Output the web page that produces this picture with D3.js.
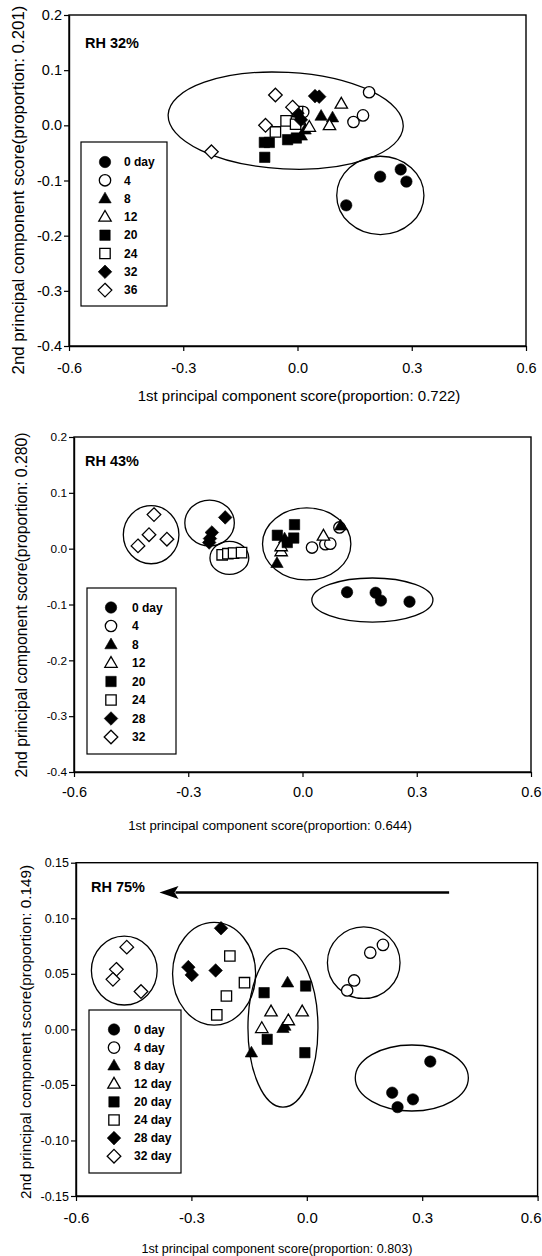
<!DOCTYPE html>
<html><head><meta charset="utf-8">
<script src="https://cdn.jsdelivr.net/npm/d3@7"></script>
<style>
body{margin:0;background:#fff}
svg{display:block}
text{font-family:"Liberation Sans",Arial,Helvetica,sans-serif;fill:#000}
</style>
</head><body>
<svg id="chart" width="542" height="1256"></svg>
<script>
// ---------------- DATA ----------------
const legendLabels32 = ["0 day","4","8","12","20","24","32","36"];
const legendLabels43 = ["0 day","4","8","12","20","24","28","32"];
const legendLabels75 = ["0 day","4 day","8 day","12 day","20 day","24 day","28 day","32 day"];
const markerKinds = ["circle-filled","circle-open","triangle-filled","triangle-open",
                     "square-filled","square-open","diamond-filled","diamond-open"];

const xTicks = [-0.6,-0.3,0.0,0.3,0.6];
const yTicks32 = [-0.4,-0.3,-0.2,-0.1,0.0,0.1,0.2];
const yTicks43 = [-0.4,-0.3,-0.2,-0.1,0.0,0.1,0.2];
const yTicks75 = [-0.15,-0.10,-0.05,0.00,0.05,0.10,0.15];

const rhLabels = ["RH 32%","RH 43%","RH 75%"];
const xTitles = ["1st principal component score(proportion: 0.722)",
                 "1st principal component score(proportion: 0.644)",
                 "1st principal component score(proportion: 0.803)"];
const yTitles = ["2nd principal component score(proportion: 0.201)",
                 "2nd principal component score(proportion: 0.280)",
                 "2nd principal component score(proportion: 0.149)"];

// PC scores [PC1, PC2] per storage day, one array per legend entry
const scores32 = [
  [[0.128,-0.145],[0.217,-0.093],[0.271,-0.080],[0.286,-0.102]],
  [[0.188,0.060],[0.147,0.006],[0.172,0.018],[0.015,0.024]],
  [[0.062,0.017],[0.092,0.014],[0.020,-0.008],[0.010,-0.019]],
  [[0.115,0.039],[0.084,0.000],[0.031,-0.003],[0.005,0.010]],
  [[-0.087,-0.031],[-0.074,-0.031],[-0.086,-0.058],[-0.026,-0.026],[-0.003,-0.023]],
  [[-0.058,-0.012],[-0.030,0.008],[-0.005,0.002],[0.000,0.025]],
  [[0.046,0.053],[0.057,0.052],[0.000,0.022],[0.009,0.010]],
  [[-0.226,-0.048],[-0.058,0.055],[-0.084,0.000],[-0.013,0.033]]
];
const scores43 = [
  [[0.117,-0.078],[0.192,-0.079],[0.206,-0.093],[0.281,-0.095]],
  [[0.025,0.002],[0.060,0.008],[0.073,0.009],[0.097,0.038]],
  [[-0.067,-0.026],[0.100,0.041],[-0.047,0.018]],
  [[-0.056,-0.005],[-0.056,0.004],[0.055,0.023]],
  [[-0.066,0.024],[-0.021,0.043],[-0.023,0.019],[-0.040,0.011]],
  [[-0.211,-0.011],[-0.196,-0.009],[-0.181,-0.008],[-0.160,-0.007]],
  [[-0.203,0.056],[-0.238,0.029],[-0.243,0.018],[-0.245,0.011]],
  [[-0.390,0.061],[-0.403,0.025],[-0.356,0.017],[-0.432,0.005]]
];
const scores75 = [
  [[0.321,-0.029],[0.222,-0.057],[0.236,-0.070],[0.276,-0.063]],
  [[0.198,0.076],[0.165,0.069],[0.123,0.044],[0.105,0.035]],
  [[-0.050,0.042],[-0.057,0.003],[-0.144,-0.021],[-0.062,0.001]],
  [[-0.093,0.016],[-0.012,0.016],[-0.117,0.001],[-0.048,0.008]],
  [[-0.111,0.033],[-0.003,0.039],[-0.103,-0.009],[-0.005,-0.021]],
  [[-0.200,0.066],[-0.209,0.030],[-0.162,0.042],[-0.234,0.013]],
  [[-0.223,0.091],[-0.308,0.056],[-0.299,0.049],[-0.237,0.053]],
  [[-0.468,0.074],[-0.495,0.054],[-0.504,0.045],[-0.431,0.034]]
];

// grouping ellipses: [centre PC1, centre PC2, radius PC1, radius PC2, tilt deg]
const groups32 = [[-0.031,0.0085,0.309,0.0875,3],[0.2175,-0.127,0.1145,0.071,0]];
const groups43 = [[-0.3975,0.025,0.073,0.052,0],[-0.244,0.046,0.065,0.041,0],
                  [-0.192,-0.0165,0.051,0.0295,0],[0.011,0.0085,0.116,0.0645,0],
                  [0.1835,-0.092,0.159,0.0395,0]];
const groups75 = [[-0.4745,0.0529,0.0855,0.031,0],[-0.241,0.050,0.108,0.0462,0],
                  [-0.062,0.0014,0.091,0.0714,0],[0.148,0.060,0.0944,0.0322,0],
                  [0.273,-0.0438,0.147,0.0297,0]];
// trend arrow in RH 75% panel: [from PC1, to PC1, at PC2]
const arrow75 = [0.370,-0.383,0.1232];

// ---------------- LAYOUT ----------------
const panels = [
  {scores:scores32, groups:groups32, labels:legendLabels32, yTicks:yTicks32, yFmt:".1f",
   left:69, right:526, top:15, bottom:346, yMin:-0.4, yMax:0.2,
   legend:{x:81,y:142,w:86,h:164,mx:105,tx:124,y0:162,dy:18.3},
   rh:{x:85,y:48}, tick:{y:14.5,x:14.5,pad:12}, xt:{x:299,y:401,size:15}, yt:{x:18,y:190,size:16.9}},
  {scores:scores43, groups:groups43, labels:legendLabels43, yTicks:yTicks43, yFmt:".1f",
   left:74, right:531, top:437, bottom:772, yMin:-0.4, yMax:0.2,
   legend:{x:87,y:588,w:89,h:166,mx:111,tx:132,y0:607.5,dy:18.5},
   rh:{x:85,y:466}, tick:{y:11.8,x:14.5,pad:10}, xt:{x:270,y:830,size:13.2}, yt:{x:21,y:605,size:15.8}},
  {scores:scores75, groups:groups75, labels:legendLabels75, yTicks:yTicks75, yFmt:".2f",
   left:76, right:537.6, top:862.7, bottom:1196, yMin:-0.15, yMax:0.15,
   legend:{x:89,y:1010,w:92,h:163,mx:114,tx:134,y0:1029.5,dy:18.1},
   rh:{x:91,y:892}, tick:{y:12.5,x:15,pad:11}, xt:{x:277,y:1253,size:12.6}, yt:{x:26,y:1032,size:15.3}, arrow:arrow75}
];

const loc = d3.formatLocale({decimal:".",thousands:",",grouping:[3],currency:["",""],minus:"-"});

function markerPath(kind){
  const shape = kind.split("-")[0];
  if(shape==="circle") return d3.symbol(d3.symbolCircle, Math.PI*5.7*5.7)();
  if(shape==="square"){const h=5.2;return `M${-h},${-h}H${h}V${h}H${-h}Z`;}
  if(shape==="triangle"){const s=12.4,h=s*0.866;return `M0,${-h*0.6}L${s/2},${h*0.4}L${-s/2},${h*0.4}Z`;}
  const d=6.8; return `M0,${-d}L${d},0L0,${d}L${-d},0Z`;
}
function styleMarker(sel, kind){
  const filled = kind.endsWith("filled");
  sel.attr("d", markerPath(kind))
     .attr("fill", filled ? "#000" : "#fff")
     .attr("stroke", "#000")
     .attr("stroke-width", filled ? 0.6 : 1.3)
     .attr("stroke-linejoin","miter");
}

const svg = d3.select("#chart");
const W = 542;
svg.append("rect").attr("width",W).attr("height",1256).attr("fill","#fff");

panels.forEach((p,pi)=>{
  const g = svg.append("g");
  const x = d3.scaleLinear().domain([-0.6,0.6]).range([p.left,p.right]);
  const y = d3.scaleLinear().domain([p.yMin,p.yMax]).range([p.bottom,p.top]);

  // axes
  const ax = g.append("g").attr("transform",`translate(0,${p.bottom})`)
    .call(d3.axisBottom(x).tickValues(xTicks).tickSize(5).tickSizeOuter(0)
          .tickPadding(p.tick.pad).tickFormat(loc.format(".1f")));
  ax.selectAll("text").attr("font-size",p.tick.x);
  // keep tick labels inside the page
  ax.selectAll(".tick").each(function(d){
    const t = d3.select(this).select("text");
    const w = t.node().getComputedTextLength();
    const over = x(d) + w/2 - (W-1);
    if(over>0) t.attr("x",-over);
  });
  const ay = g.append("g").attr("transform",`translate(${p.left},0)`)
    .call(d3.axisLeft(y).tickValues(p.yTicks).tickSize(5).tickSizeOuter(0)
          .tickPadding(2).tickFormat(loc.format(p.yFmt)));
  ay.selectAll("text").attr("font-size",p.tick.y);
  g.selectAll(".domain").attr("stroke","#000").attr("stroke-width",1.4);
  g.selectAll(".tick line").attr("stroke","#000").attr("stroke-width",1.2);
  g.selectAll(".tick text").attr("fill","#000");

  // frame
  g.append("rect").attr("x",p.left).attr("y",p.top)
   .attr("width",p.right-p.left).attr("height",p.bottom-p.top)
   .attr("fill","none").attr("stroke","#000").attr("stroke-width",1.4);

  // titles
  g.append("text").attr("x",p.xt.x).attr("y",p.xt.y)
   .attr("text-anchor","middle").attr("font-size",p.xt.size).text(xTitles[pi]);
  g.append("text").attr("transform",`translate(${p.yt.x},${p.yt.y}) rotate(-90)`)
   .attr("text-anchor","middle").attr("dy","0.35em").attr("font-size",p.yt.size).text(yTitles[pi]);

  g.append("text").attr("x",p.rh.x).attr("y",p.rh.y).attr("font-size",14.5)
   .attr("font-weight","bold").text(rhLabels[pi]);

  // grouping ellipses
  g.selectAll("ellipse.grp").data(p.groups).join("ellipse").attr("class","grp")
   .attr("cx",d=>x(d[0])).attr("cy",d=>y(d[1]))
   .attr("rx",d=>x(d[0]+d[2])-x(d[0])).attr("ry",d=>y(d[1])-y(d[1]+d[3]))
   .attr("transform",d=>`rotate(${d[4]},${x(d[0])},${y(d[1])})`)
   .attr("fill","none").attr("stroke","#000").attr("stroke-width",1.3);

  // arrow
  if(p.arrow){
    const a = p.arrow, ay0 = y(a[2]), xs = x(a[0]), xe = x(a[1]);
    g.append("line").attr("x1",xs).attr("x2",xe+16).attr("y1",ay0).attr("y2",ay0)
     .attr("stroke","#000").attr("stroke-width",2.6);
    g.append("path").attr("d",`M${xe},${ay0}L${xe+19},${ay0-6.5}L${xe+15},${ay0}L${xe+19},${ay0+6.5}Z`)
     .attr("fill","#000");
  }

  // points
  p.scores.forEach((series,si)=>{
    g.selectAll(null).data(series).join("path")
     .attr("transform",d=>`translate(${x(d[0])},${y(d[1])})`)
     .call(styleMarker, markerKinds[si]);
  });

  // legend
  const L = p.legend;
  g.append("rect").attr("x",L.x).attr("y",L.y).attr("width",L.w).attr("height",L.h)
   .attr("fill","#fff").attr("stroke","#000").attr("stroke-width",1.2);
  const items = g.selectAll("g.leg").data(p.labels).join("g").attr("class","leg")
   .attr("transform",(d,i)=>`translate(0,${L.y0+i*L.dy})`);
  items.append("path").attr("transform",`translate(${L.mx},0)`)
   .each(function(d,i){ d3.select(this).call(styleMarker, markerKinds[i]); });
  items.append("text").attr("x",L.tx).attr("dy","0.35em").attr("font-size",12)
   .attr("font-weight","bold").text(d=>d);
});
</script>
</body></html>
